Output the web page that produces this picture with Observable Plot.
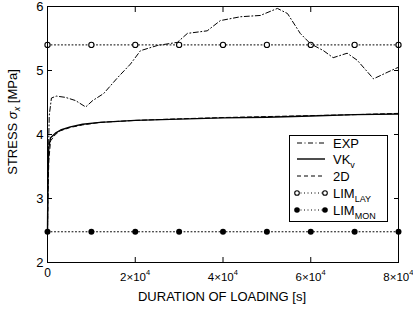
<!DOCTYPE html>
<html><head><meta charset="utf-8">
<script src="https://cdn.jsdelivr.net/npm/d3@7"></script>
<script src="https://cdn.jsdelivr.net/npm/@observablehq/plot@0.6"></script>
<style>body{margin:0;background:#fff} svg{display:block}</style>
</head><body><div id="chart"></div>
<script>
// ---- data ----
const expX = [0, 150, 400, 900, 2000, 4100, 6400, 8700, 10300, 12800, 16000, 18900, 21200, 25000, 29600, 31900, 36400, 39400, 44000, 48500, 52400, 54700, 57600, 59900, 62900, 65100, 68300, 70600, 74300, 77400, 79300, 80000];
const expY = [2.47, 3.5, 4.3, 4.57, 4.6, 4.58, 4.53, 4.43, 4.53, 4.64, 4.89, 5.1, 5.31, 5.39, 5.44, 5.58, 5.62, 5.78, 5.84, 5.86, 5.97, 5.89, 5.58, 5.42, 5.31, 5.2, 5.27, 5.16, 4.87, 4.97, 5.03, 5.05];
const vkX = [0, 100, 300, 700, 1800, 3000, 5200, 8000, 12000, 20000, 30000, 40000, 50000, 60000, 70000, 80000];
const vkY = [2.47, 3.3, 3.8, 3.95, 4.02, 4.07, 4.12, 4.16, 4.19, 4.22, 4.24, 4.26, 4.27, 4.29, 4.31, 4.32];
const d2X = [0, 100, 300, 700, 1800, 3000, 5200, 8000, 12000, 20000, 30000, 40000, 50000, 60000, 70000, 80000];
const d2Y = [2.47, 3.0, 3.6, 3.9, 4.0, 4.06, 4.11, 4.15, 4.19, 4.22, 4.245, 4.265, 4.28, 4.295, 4.31, 4.33];
const limX = [0, 10000, 20000, 30000, 40000, 50000, 60000, 70000, 80000];
const limLayValue = 5.4;
const limMonValue = 2.48;
const xTicks = [0, 20000, 40000, 60000, 80000];
const xTickMantissa = ["0", "2", "4", "6", "8"];
const xTickExponent = "4";
const yTicks = [2, 3, 4, 5, 6];
const legendNames = ["EXP", "VK", "2D", "LIM", "LIM"];
const legendSubs = ["", "v", "", "LAY", "MON"];
const xTitle = "DURATION OF LOADING [s]";

const exp = expX.map((x, i) => ({x, y: expY[i]}));
const vk = vkX.map((x, i) => ({x, y: vkY[i]}));
const d2 = d2X.map((x, i) => ({x, y: d2Y[i]}));
const lay = limX.map(x => ({x, y: limLayValue}));
const mon = limX.map(x => ({x, y: limMonValue}));
const tickLabels = xTicks.map((v, i) => ({v, m: xTickMantissa[i]}));
const zeroTick = tickLabels.filter(d => d.m === "0");
const powTicks = tickLabels.filter(d => d.m !== "0");

const font = "'Liberation Sans', Arial, Helvetica, sans-serif";

const chart = Plot.plot({
  width: 413, height: 311,
  marginLeft: 47, marginRight: 15, marginTop: 6, marginBottom: 49,
  x: {domain: [0, 80000]},
  y: {domain: [2, 6]},
  style: {fontFamily: font, fontSize: "13px", background: "white", color: "black"},
  marks: [
    Plot.line(lay, {x: "x", y: "y", stroke: "black", strokeWidth: 1, strokeDasharray: "1,2.5"}),
    Plot.dot(lay, {x: "x", y: "y", r: 2.6, stroke: "black", fill: "white", strokeWidth: 1.1}),
    Plot.line(mon, {x: "x", y: "y", stroke: "black", strokeWidth: 1, strokeDasharray: "1,2.5"}),
    Plot.dot(mon, {x: "x", y: "y", r: 3, fill: "black"}),
    Plot.line(d2, {x: "x", y: "y", stroke: "black", strokeWidth: 1, strokeDasharray: "4,3"}),
    Plot.line(vk, {x: "x", y: "y", stroke: "black", strokeWidth: 1.4}),
    Plot.line(exp, {x: "x", y: "y", stroke: "black", strokeWidth: 1, strokeDasharray: "5,2.5,1,2.5"}),
    Plot.frame({stroke: "black", strokeWidth: 1}),
    Plot.axisY({anchor: "left", ticks: yTicks, tickSize: -5, tickPadding: 9, tickFormat: d => String(d), label: null, fontSize: 13}),
    Plot.axisY({anchor: "right", ticks: yTicks, tickSize: -5, tickFormat: () => "", label: null}),
    Plot.axisX({anchor: "top", ticks: xTicks, tickSize: -5, tickFormat: () => "", label: null}),
    Plot.axisX({anchor: "bottom", ticks: xTicks, tickSize: -5, tickFormat: () => "", label: null}),
    Plot.text(zeroTick, {x: "v", text: "m", frameAnchor: "bottom", dy: 14, lineAnchor: "bottom", fontSize: 12}),
    Plot.text(powTicks, {x: "v", text: d => d.m + "×10", frameAnchor: "bottom", dx: -15.2, dy: 18, lineAnchor: "bottom", textAnchor: "start", fontSize: 11.5}),
    Plot.text(powTicks, {x: "v", text: () => xTickExponent, frameAnchor: "bottom", dx: 10.7, dy: 12, lineAnchor: "bottom", textAnchor: "start", fontSize: 7.5})
  ]
});
document.getElementById("chart").appendChild(chart);

const svg = d3.select(chart);
// axis titles
svg.append("text").attr("x", 222).attr("y", 301).attr("text-anchor", "middle")
  .attr("font-family", font).attr("font-size", 13).text(xTitle);
const yl = svg.append("text").attr("transform", "translate(17,122) rotate(-90)")
  .attr("text-anchor", "middle").attr("font-family", font).attr("font-size", 13);
yl.append("tspan").text("STRESS ");
yl.append("tspan").attr("font-style", "italic").text("σ");
yl.append("tspan").attr("font-style", "italic").attr("font-size", 9).attr("dy", 3).text("x");
yl.append("tspan").attr("dy", -3).text(" [MPa]");

// legend
const lg = svg.append("g").attr("font-family", font).attr("font-size", 13).attr("text-anchor", "start");
lg.append("rect").attr("x", 289.5).attr("y", 135.5).attr("width", 98).attr("height", 86)
  .attr("fill", "white").attr("stroke", "black");
const rowY = [143, 159, 176, 193, 210];
const styles = [
  {dash: "5,2.5,1,2.5", w: 1}, {dash: null, w: 1.4}, {dash: "4,3", w: 1},
  {dash: "1,2.5", w: 1, dot: "open"}, {dash: "1,2.5", w: 1, dot: "fill"}
];
legendNames.forEach((name, i) => {
  const y = rowY[i], s = styles[i];
  lg.append("line").attr("x1", 297).attr("x2", 325).attr("y1", y).attr("y2", y)
    .attr("stroke", "black").attr("stroke-width", s.w).attr("stroke-dasharray", s.dash);
  if (s.dot) {
    [297, 325].forEach(cx => lg.append("circle").attr("cx", cx).attr("cy", y)
      .attr("r", s.dot === "open" ? 2.3 : 2.8)
      .attr("fill", s.dot === "open" ? "white" : "black")
      .attr("stroke", s.dot === "open" ? "black" : "none").attr("stroke-width", 1.1));
  }
  const t = lg.append("text").attr("x", 333).attr("y", y + 4.5).attr("text-anchor", "start");
  t.append("tspan").text(name);
  if (legendSubs[i]) t.append("tspan").attr("dy", 4).attr("font-size", 9).text(legendSubs[i]);
});
</script>
</body></html>
